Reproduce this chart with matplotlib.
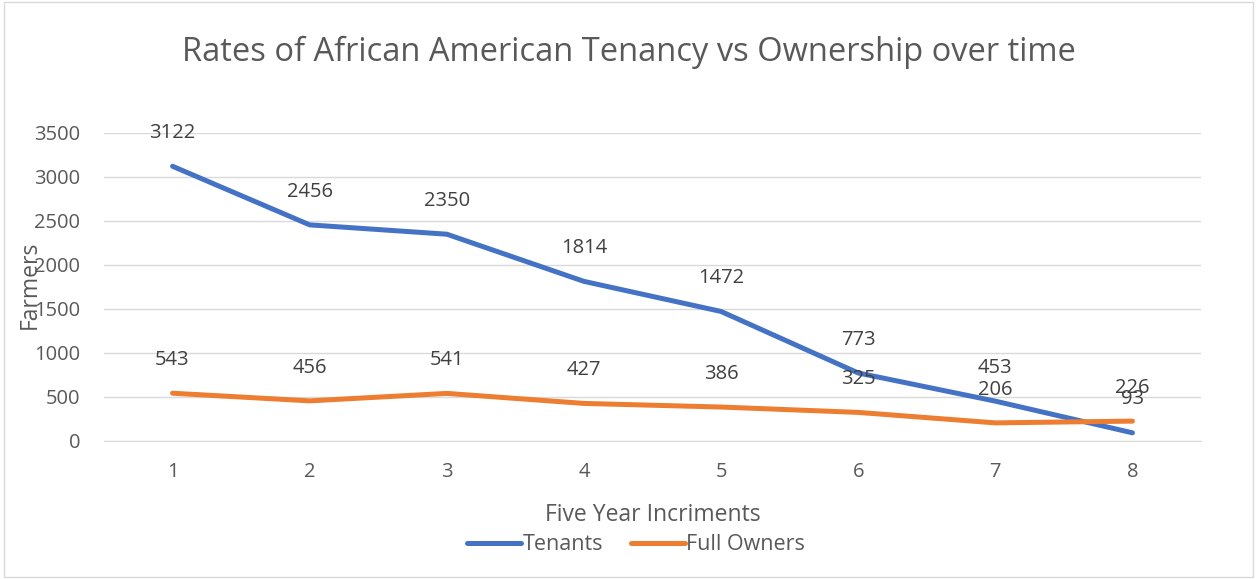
import matplotlib
matplotlib.use("Agg")
import matplotlib.pyplot as plt
from matplotlib.patches import Rectangle

# Dados do gráfico
periodos = [1, 2, 3, 4, 5, 6, 7, 8]
arrendatarios = [3122, 2456, 2350, 1814, 1472, 773, 453, 93]
proprietarios = [543, 456, 541, 427, 386, 325, 206, 226]
yticks = [0, 500, 1000, 1500, 2000, 2500, 3000, 3500]

azul = "#4472C4"
laranja = "#ED7D31"
cinza_texto = "#595959"

plt.rcParams["font.family"] = ["Open Sans", "DejaVu Sans"]

fig = plt.figure(figsize=(12.57, 5.79), dpi=100)
ax = fig.add_axes([104 / 1257, 1 - 441 / 579, (1201 - 104) / 1257, (441 - 133) / 579])

ax.plot(periodos, arrendatarios, color=azul, lw=3.6, solid_capstyle="round", label="Tenants")
ax.plot(periodos, proprietarios, color=laranja, lw=3.6, solid_capstyle="round", label="Full Owners")

# Rótulos dos dados
for x, y in zip(periodos, arrendatarios):
    ax.annotate(str(y), (x, y), xytext=(0, 24), textcoords="offset points",
                ha="center", va="center", fontsize=14.5, color="#404040")
for x, y in zip(periodos, proprietarios):
    ax.annotate(str(y), (x, y), xytext=(0, 24), textcoords="offset points",
                ha="center", va="center", fontsize=14.5, color="#404040")

ax.set_xlim(0.5, 8.5)
ax.set_ylim(0, 3500)
ax.set_xticks(periodos)
ax.set_yticks(yticks)
ax.tick_params(length=0, labelsize=14.5, labelcolor=cinza_texto)
ax.tick_params(axis="x", pad=15)
ax.tick_params(axis="y", pad=17)
ax.grid(axis="y", color="#D9D9D9", lw=1)
ax.set_axisbelow(True)
for s in ["top", "right", "left"]:
    ax.spines[s].set_visible(False)
ax.spines["bottom"].set_color("#D9D9D9")

ax.set_xlabel("Five Year Incriments", fontsize=16.5, color=cinza_texto, labelpad=15)
fig.text(30 / 1257, 1 - 285 / 579, "Farmers", rotation=90, ha="center", va="center",
         fontsize=16.5, color=cinza_texto)

fig.text(0.5, 1 - 52 / 579, "Rates of African American Tenancy vs Ownership over time",
         ha="center", va="center", fontsize=23.5, color=cinza_texto)

leg = fig.legend(loc="center", bbox_to_anchor=(636 / 1257, 1 - 545 / 579), ncol=2, frameon=False,
                 fontsize=15.5, handlelength=2.5, handletextpad=0.05, columnspacing=1.3)
for t in leg.get_texts():
    t.set_color(cinza_texto)

# Borda do gráfico
fig.patches.append(Rectangle((0.003, 0.003), 0.994, 0.994, transform=fig.transFigure,
                             fill=False, edgecolor="#D9D9D9", lw=1))

fig.savefig("out.png", dpi=100)
